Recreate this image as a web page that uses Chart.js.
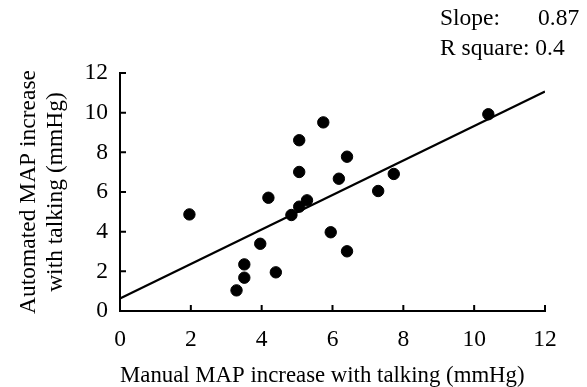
<!DOCTYPE html>
<html>
<head>
<meta charset="utf-8">
<script src="https://cdn.jsdelivr.net/npm/chart.js@4"></script>
<style>
  html, body { margin: 0; padding: 0; background: #fff; }
  #wrap { width: 587px; height: 387px; }
</style>
</head>
<body>
<div id="wrap"><canvas id="chart" width="587" height="387"></canvas></div>
<script>
const manualMAP = [1.96, 3.29, 3.51, 3.51, 3.96, 4.40, 4.19, 4.84, 5.06, 5.28,
  5.06, 5.06, 5.74, 5.95, 6.18, 6.41, 6.41, 7.29, 7.73, 10.40];
const automatedMAP = [4.87, 1.04, 1.68, 2.35, 3.39, 1.95, 5.71, 4.84, 5.26, 5.58,
  7.01, 8.61, 9.51, 3.97, 6.67, 7.78, 3.01, 6.05, 6.91, 9.92];
const slope = 0.87;
const intercept = 0.63;
const rSquare = 0.4;
const xRange = [0, 12];
const yRange = [0, 12];

const serif = '"Liberation Serif", "Times New Roman", serif';
const fontSize = 23.5;
const ctx = document.getElementById('chart').getContext('2d');

const points = manualMAP.map((x, i) => ({ x: x, y: automatedMAP[i] }));
const fitLine = xRange.map(x => ({ x: x, y: intercept + slope * x }));

// tick marks pointing into the plot
const innerTicks = {
  id: 'innerTicks',
  afterDraw(chart) {
    const c = chart.ctx;
    const xs = chart.scales.x;
    const ys = chart.scales.y;
    const area = chart.chartArea;
    c.save();
    c.strokeStyle = '#000';
    c.lineWidth = 2;
    c.beginPath();
    xs.ticks.forEach(t => {
      const px = xs.getPixelForValue(t.value);
      c.moveTo(px, area.bottom);
      c.lineTo(px, area.bottom - 6);
    });
    ys.ticks.forEach(t => {
      const py = ys.getPixelForValue(t.value);
      c.moveTo(area.left, py);
      c.lineTo(area.left + 6, py);
    });
    c.stroke();
    c.restore();
  }
};

// slope / r square note in the top right corner
const notePlugin = {
  id: 'note',
  afterDraw(chart) {
    const c = chart.ctx;
    c.save();
    c.fillStyle = '#000';
    c.font = fontSize + 'px ' + serif;
    c.textBaseline = 'alphabetic';
    c.textAlign = 'left';
    c.fillText('Slope:', 440, 25);
    c.fillText(slope.toFixed(2), 538, 25);
    c.fillText('R square: ' + rSquare, 440, 55);
    c.restore();
  }
};

new Chart(ctx, {
  type: 'scatter',
  data: {
    datasets: [
      {
        data: points,
        backgroundColor: '#000',
        borderColor: '#000',
        pointRadius: 5.7,
        pointHoverRadius: 5.7,
      },
      {
        type: 'line',
        data: fitLine,
        borderColor: '#000',
        borderWidth: 2.2,
        pointRadius: 0,
        fill: false,
      },
    ],
  },
  options: {
    responsive: false,
    animation: false,
    events: [],
    layout: { padding: { left: 0, top: 73, right: 42, bottom: 0 } },
    plugins: { legend: { display: false }, tooltip: { enabled: false } },
    scales: {
      x: {
        type: 'linear',
        min: xRange[0],
        max: xRange[1],
        afterFit: s => { s.height = 76; },
        border: { display: true, color: '#000', width: 2 },
        grid: { drawOnChartArea: false, drawTicks: false },
        ticks: { stepSize: 2, color: '#000', font: { family: serif, size: fontSize }, padding: 15, maxRotation: 0 },
        title: {
          display: true,
          align: 'start',
          text: 'Manual MAP increase with talking (mmHg)',
          color: '#000',
          font: { family: serif, size: 22.8, lineHeight: 1 },
          padding: { top: 0, bottom: 0 },
        },
      },
      y: {
        type: 'linear',
        min: yRange[0],
        max: yRange[1],
        afterFit: s => { s.width = 120; },
        border: { display: true, color: '#000', width: 2 },
        grid: { drawOnChartArea: false, drawTicks: false },
        ticks: { stepSize: 2, color: '#000', font: { family: serif, size: fontSize }, padding: 12 },
        title: {
          display: true,
          text: ['Automated MAP increase', 'with talking (mmHg)'],
          color: '#000',
          font: { family: serif, size: fontSize, lineHeight: 1.15 },
          padding: { top: 15, bottom: 0 },
        },
      },
    },
  },
  plugins: [innerTicks, notePlugin],
});
</script>
</body>
</html>
